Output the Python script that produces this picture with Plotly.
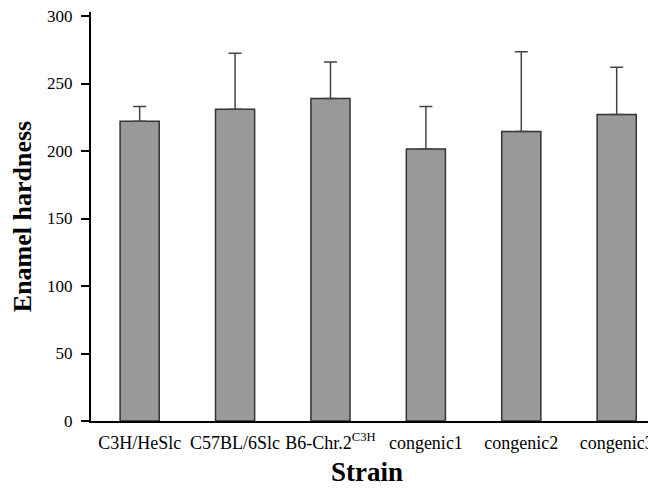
import plotly.graph_objects as go

strains = ["C3H/HeSlc", "C57BL/6Slc", "B6-Chr.2<sup>C3H</sup>", "congenic1", "congenic2", "congenic3"]
hardness = [222, 231, 239, 201.5, 214.5, 227]
sd = [11, 41.5, 27, 31.5, 59, 35]

fig = go.Figure()
fig.add_trace(go.Bar(
    x=list(range(len(strains))), y=hardness,
    width=0.41,
    marker=dict(color="#999999", line=dict(color="#333333", width=1.5)),
    error_y=dict(type="data", symmetric=False, array=sd, arrayminus=[0]*len(sd),
                 color="#444444", thickness=1.5, width=6.5),
))

# page body has an 8px margin; the figure is sized to fit the window
fig.update_layout(
    width=648, height=481,
    margin=dict(l=83, r=4, t=4, b=68),
    plot_bgcolor="white", paper_bgcolor="white",
    showlegend=False,
    font=dict(family="Liberation Serif, Times New Roman, serif", color="black"),
    xaxis=dict(
        range=[-0.51, 5.37],
        tickmode="array", tickvals=list(range(len(strains))), ticktext=strains,
        showline=True, linecolor="black", linewidth=2,
        ticks="", tickfont=dict(size=18), ticklabelstandoff=4,
        ticklabeloverflow="allow",
        showgrid=False, zeroline=False, automargin=False,
    ),
    yaxis=dict(
        range=[0, 303],
        tickvals=[0, 50, 100, 150, 200, 250, 300],
        showline=True, linecolor="black", linewidth=2,
        ticks="outside", ticklen=8, tickwidth=2, tickcolor="black",
        tickfont=dict(size=17), ticklabelstandoff=5,
        ticklabeloverflow="allow",
        showgrid=False, zeroline=False, automargin=False,
        title=dict(text="<b>Enamel hardness</b>", font=dict(size=26), standoff=14),
    ),
    annotations=[dict(
        text="<b>Strain</b>", xref="paper", yref="paper",
        x=0.492, y=-0.124, xanchor="center", yanchor="middle",
        showarrow=False, font=dict(size=27),
    )],
)

fig.write_html("out.html")
